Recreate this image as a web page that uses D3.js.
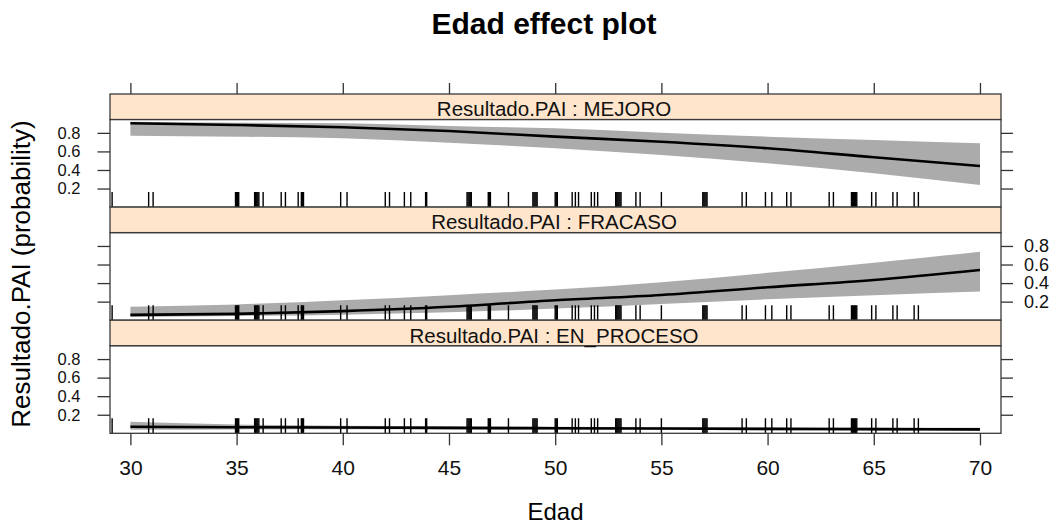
<!DOCTYPE html>
<html>
<head>
<meta charset="utf-8">
<script src="https://cdn.jsdelivr.net/npm/d3@7"></script>
<style>
  body { margin: 0; background: #fff; }
  svg { display: block; font-family: "Liberation Sans", Arial, sans-serif; }
</style>
</head>
<body>
<div id="chart"></div>
<script>
// effect values, at Edad = 30, 35, ..., 70
const edadGrid = [30, 35, 40, 45, 50, 55, 60, 65, 70];
const categories = ["MEJORO", "FRACASO", "EN_PROCESO"];

const fitMejoro   = [0.903, 0.885, 0.860, 0.820, 0.759, 0.705, 0.634, 0.537, 0.443];
const lowerMejoro = [0.770, 0.759, 0.742, 0.694, 0.634, 0.562, 0.472, 0.365, 0.239];
const upperMejoro = [0.920, 0.909, 0.903, 0.874, 0.849, 0.802, 0.759, 0.723, 0.688];

const fitFracaso   = [0.057, 0.068, 0.098, 0.145, 0.215, 0.272, 0.355, 0.434, 0.541];
const lowerFracaso = [0.035, 0.045, 0.060, 0.085, 0.125, 0.175, 0.225, 0.270, 0.308];
const upperFracaso = [0.146, 0.170, 0.215, 0.270, 0.330, 0.410, 0.510, 0.620, 0.738];

const fitProceso   = [0.071, 0.066, 0.062, 0.058, 0.054, 0.051, 0.048, 0.045, 0.042];
const lowerProceso = [0.038, 0.042, 0.043, 0.042, 0.040, 0.037, 0.033, 0.029, 0.025];
const upperProceso = [0.125, 0.095, 0.082, 0.075, 0.070, 0.066, 0.063, 0.061, 0.060];

// rug of observed Edad values (jittered as drawn)
const rugEdad = [29.14, 30.86, 31.07,
  34.95, 35.0, 35.05, 35.1,
  35.85, 35.9, 35.95, 36.0, 36.05, 36.25,
  37.1, 37.3, 37.9, 38.05, 38.1, 38.15,
  39.9, 40.2, 42.0, 42.2, 42.9, 43.2, 43.9, 43.95,
  45.85, 45.9, 45.95, 46.0, 46.05, 46.85, 46.9, 46.95,
  47.8, 48.95, 49.0, 49.05, 49.1, 49.15, 50.0, 50.05, 50.1,
  50.8, 50.95, 51.1, 51.7, 51.85, 52.0,
  52.85, 52.9, 52.95, 53.0, 53.05, 53.1, 53.8, 54.0, 55.0,
  56.95, 57.0, 57.05, 57.1, 57.15, 58.8, 59.0, 59.9, 60.2, 60.9, 61.1, 62.9, 63.1,
  63.95, 64.0, 64.05, 64.1, 64.15, 64.2, 64.9, 65.1, 65.9, 66.1, 66.9, 67.1];

const edadTicks = [30, 35, 40, 45, 50, 55, 60, 65, 70];
const probTicks = [0.2, 0.4, 0.6, 0.8];

const panelFits = [fitMejoro, fitFracaso, fitProceso];
const panelLower = [lowerMejoro, lowerFracaso, lowerProceso];
const panelUpper = [upperMejoro, upperFracaso, upperProceso];

//layout
const W = 1063, H = 527;
const boxLeft = 110, boxRight = 1001;
const boxTop = 94, blockH = 113.1, stripH = 25.5;

const svg = d3.select("#chart").append("svg")
    .attr("width", W)
    .attr("height", H);

const x = d3.scaleLinear()
    .domain([29.04, 70.99])
    .range([boxLeft, boxRight]);

// title
svg.append("text")
    .attr("x", 544).attr("y", 34)
    .attr("text-anchor", "middle")
    .attr("font-size", 30).attr("font-weight", "bold")
    .text("Edad effect plot");

// axis titles
svg.append("text")
    .attr("x", 555.5).attr("y", 520)
    .attr("text-anchor", "middle")
    .attr("font-size", 24)
    .text("Edad");

svg.append("text")
    .attr("transform", "translate(30,274) rotate(-90)")
    .attr("text-anchor", "middle")
    .attr("font-size", 26)
    .text("Resultado.PAI (probability)");

function styleAxis(g) {
    g.select(".domain").remove();
    g.selectAll(".tick line").attr("stroke", "#333").attr("stroke-width", 1.3);
    g.selectAll(".tick text").attr("fill", "#111");
    g.attr("font-family", null);
}

categories.forEach((cat, i) => {
    const stripTop = boxTop + i * blockH;
    const plotTop = stripTop + stripH;
    const plotBottom = stripTop + blockH;

    const y = d3.scaleLinear()
        .domain([0, 0.944])
        .range([plotBottom, plotTop]);

    const pts = edadGrid.map((e, k) => ({
        e: e, fit: panelFits[i][k], lo: panelLower[i][k], hi: panelUpper[i][k]
    }));

    const panel = svg.append("g");

    const clipId = "clip" + i;
    svg.append("clipPath").attr("id", clipId)
        .append("rect")
        .attr("x", boxLeft).attr("y", plotTop)
        .attr("width", boxRight - boxLeft).attr("height", plotBottom - plotTop);

    const inner = panel.append("g").attr("clip-path", `url(#${clipId})`);

    // confidence band
    inner.append("path")
        .datum(pts)
        .attr("fill", "#ababab")
        .attr("d", d3.area()
            .x(d => x(d.e))
            .y0(d => y(d.lo))
            .y1(d => y(d.hi))
            .curve(d3.curveMonotoneX));

    // fitted line
    inner.append("path")
        .datum(pts)
        .attr("fill", "none")
        .attr("stroke", "#000")
        .attr("stroke-width", 2.6)
        .attr("d", d3.line()
            .x(d => x(d.e))
            .y(d => y(d.fit))
            .curve(d3.curveMonotoneX));

    // rug
    inner.selectAll(".rug")
        .data(rugEdad)
        .enter().append("line")
        .attr("class", "rug")
        .attr("x1", d => x(d)).attr("x2", d => x(d))
        .attr("y1", plotBottom).attr("y2", plotBottom - 15)
        .attr("stroke", "#000")
        .attr("stroke-width", 1.4);

    // panel frame
    panel.append("rect")
        .attr("x", boxLeft).attr("y", plotTop)
        .attr("width", boxRight - boxLeft).attr("height", plotBottom - plotTop)
        .attr("fill", "none")
        .attr("stroke", "#3a3a3a")
        .attr("stroke-width", 1.3);

    // strip
    panel.append("rect")
        .attr("x", boxLeft).attr("y", stripTop)
        .attr("width", boxRight - boxLeft).attr("height", stripH)
        .attr("fill", "#ffe5cc")
        .attr("stroke", "#3a3a3a")
        .attr("stroke-width", 1.3);

    panel.append("text")
        .attr("x", 554).attr("y", plotTop - 3.2)
        .attr("text-anchor", "middle")
        .attr("font-size", 20.5)
        .attr("fill", "#111")
        .text("Resultado.PAI : " + cat);

    // y axes: labels alternate left / right
    const labelLeft = i !== 1;
    svg.append("g")
        .attr("transform", `translate(${boxLeft},0)`)
        .call(d3.axisLeft(y).tickValues(probTicks).tickSize(12.5)
            .tickPadding(17)
            .tickFormat(labelLeft ? d3.format(".1f") : ""))
        .call(styleAxis)
        .attr("font-size", 16.5);

    svg.append("g")
        .attr("transform", `translate(${boxRight},0)`)
        .call(d3.axisRight(y).tickValues(probTicks).tickSize(12)
            .tickPadding(11)
            .tickFormat(labelLeft ? "" : d3.format(".1f")))
        .call(styleAxis)
        .attr("font-size", 18);
});

// x axes
svg.append("g")
    .attr("transform", `translate(0,${boxTop})`)
    .call(d3.axisTop(x).tickValues(edadTicks).tickSize(11).tickFormat(""))
    .call(styleAxis);

svg.append("g")
    .attr("transform", `translate(0,${boxTop + 3 * blockH})`)
    .call(d3.axisBottom(x).tickValues(edadTicks).tickSize(12).tickPadding(15))
    .call(styleAxis)
    .attr("font-size", 21);
</script>
</body>
</html>
